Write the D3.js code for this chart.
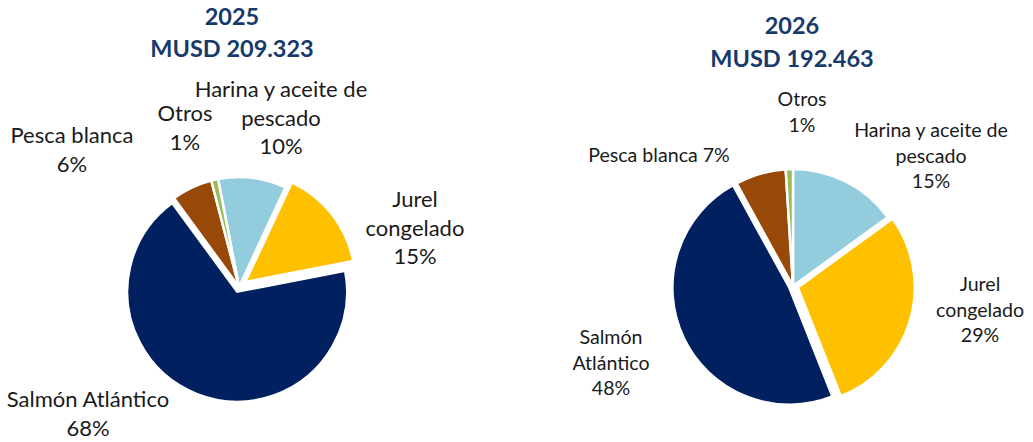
<!DOCTYPE html>
<html>
<head>
<meta charset="utf-8">
<script src="https://cdn.jsdelivr.net/npm/d3@7"></script>
<style>
  body { margin: 0; background: #fff; }
  svg { display: block; }
  .title { font-family: Lato, "Open Sans", sans-serif; font-weight: bold; fill: #173a6b; text-anchor: middle; }
  .lbl { font-family: Lato, "Open Sans", sans-serif; fill: #1a1a1a; text-anchor: middle; }
</style>
</head>
<body>
<div id="chart"></div>
<script>
// categories and values (percent of exports)
var categories = ["Harina y aceite de pescado", "Jurel congelado", "Salmón Atlántico", "Pesca blanca", "Otros"];
var values2025 = [10, 15, 68, 6, 1];
var values2026 = [15, 29, 48, 7, 1];
var titles2025 = ["2025", "MUSD 209.323"];
var titles2026 = ["2026", "MUSD 192.463"];

// label lines per slice
var labels2025 = [["Harina y aceite de", "pescado", "10%"], ["Jurel", "congelado", "15%"], ["Salmón Atlántico", "68%"], ["Pesca blanca", "6%"], ["Otros", "1%"]];
var labels2026 = [["Harina y aceite de", "pescado", "15%"], ["Jurel", "congelado", "29%"], ["Salmón", "Atlántico", "48%"], ["Pesca blanca 7%"], ["Otros", "1%"]];

var colors = d3.scaleOrdinal()
    .domain(categories)
    .range(["#93cddd", "#ffc000", "#002060", "#984807", "#9bbb59"]);

var width = 1033, height = 442;

var svg = d3.select("#chart").append("svg")
    .attr("width", width)
    .attr("height", height);

function drawPie(opts) {
    var g = svg.append("g");

    var pie = d3.pie()
        .sort(null)
        .startAngle(opts.start * Math.PI / 180)
        .endAngle(opts.start * Math.PI / 180 + 2 * Math.PI);

    var arc = d3.arc().innerRadius(0).outerRadius(opts.r);

    var arcs = pie(opts.values);

    g.selectAll("path")
        .data(arcs)
        .enter()
        .append("path")
        .attr("d", arc)
        .attr("fill", function(d, i){ return colors(categories[i]); })
        .attr("stroke", "#fff")
        .attr("stroke-width", 2.5)
        .attr("stroke-linejoin", "miter")
        .attr("transform", function(d, i){
            var off = opts.explode[i] || 0;
            var mid = (d.startAngle + d.endAngle) / 2;
            var x = opts.cx + off * Math.sin(mid);
            var y = opts.cy - off * Math.cos(mid);
            return "translate(" + x + "," + y + ")";
        });

    // titles
    opts.titles.forEach(function(t, i){
        svg.append("text")
            .attr("class", "title")
            .attr("x", opts.titleX)
            .attr("y", opts.titleY[i])
            .style("font-size", "23.5px")
            .text(t);
    });

    // labels
    opts.labels.forEach(function(lines, i){
        var pos = opts.labelPos[i];
        var t = svg.append("text")
            .attr("class", "lbl")
            .style("font-size", opts.fontSize + "px");
        lines.forEach(function(line, j){
            t.append("tspan")
                .attr("x", pos[0])
                .attr("y", pos[1] + j * opts.lineH)
                .text(line);
        });
    });
}

drawPie({
    values: values2025, labels: labels2025, titles: titles2025,
    cx: 239, cy: 287, r: 110, start: -11,
    explode: [0, 8, 5, 0, 0],
    titleX: 232, titleY: [25, 57],
    fontSize: 22, lineH: 28.5,
    labelPos: [[281, 97], [415, 207], [88, 407], [72, 143], [185, 121]]
});

drawPie({
    values: values2026, labels: labels2026, titles: titles2026,
    cx: 793, cy: 286, r: 117, start: 0,
    explode: [0, 5, 4, 0, 0],
    titleX: 792, titleY: [34, 67],
    fontSize: 19.6, lineH: 25.5,
    labelPos: [[931, 137], [980, 291], [611, 344], [659, 162], [802, 106]]
});
</script>
</body>
</html>
